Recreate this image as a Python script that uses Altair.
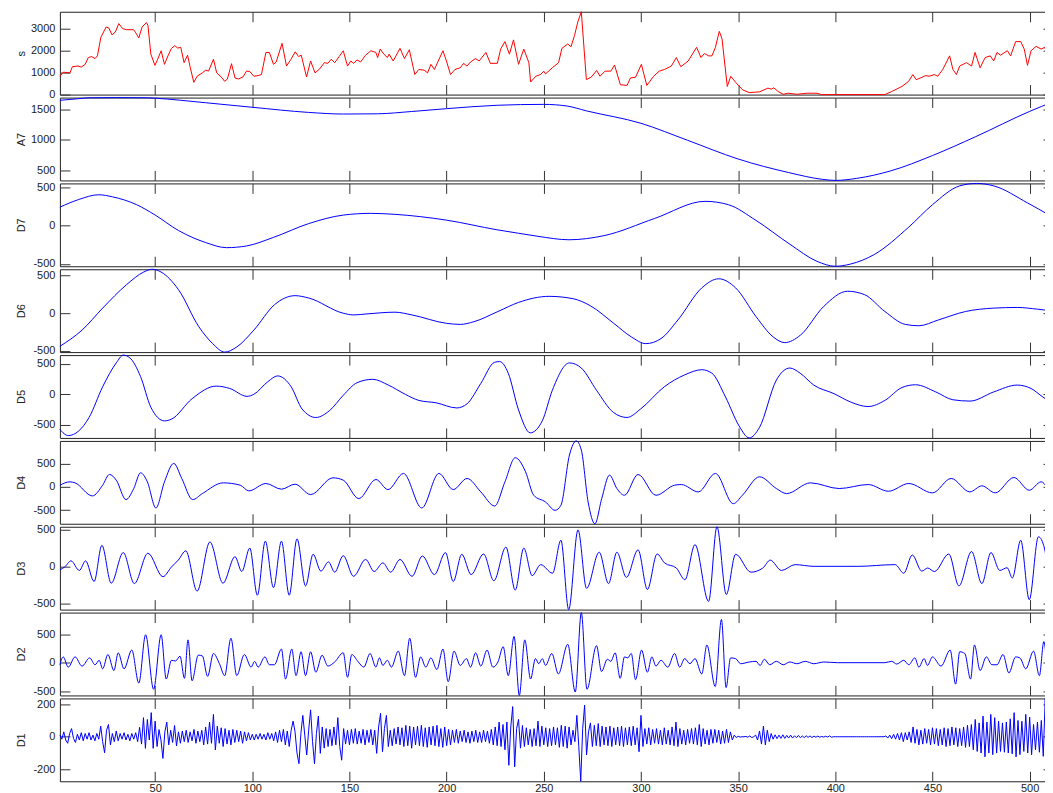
import altair as alt
import pandas as pd

# ---------------- data ----------------
X_TICKS = [50, 100, 150, 200, 250, 300, 350, 400, 450, 500]

s_x = [1, 2.7, 6.2, 7.4, 10.3, 12, 14, 15.6, 17.3, 19.1, 20.3, 22.1, 24.8, 26.2, 27.8, 29.5, 31.3, 33.3, 35.4, 38.9,
       39.8, 41.6, 43.3, 45.5, 46.3, 47.8, 49.9, 51.3, 53.1, 54.8, 56.6, 58.4, 60.1, 61.6, 63.2, 64.9, 66.7, 68.1, 69.9, 71.6,
       74.3, 76.1, 77.5, 80, 81.7, 84, 85.8, 87.2, 89.3, 91.1, 92.9, 95.2, 97, 98.7, 100.8, 103, 104.7, 107, 108.8, 110.9,
       112.3, 115.3, 117.6, 119.9, 122.1, 123.8, 125.2, 127.9, 130, 132.3, 134.4, 137.1, 138.9, 140.6, 142.4, 144.7, 146.8, 149, 150.7, 152.1,
       153.9, 155.7, 158.3, 161, 163.6, 164.5, 165.8, 167.7, 169.5, 170.4, 172.5, 176, 178.3, 180.8, 183.6, 185.7, 188.4, 190.2, 191.9, 193.7,
       198.1, 199.9, 202, 204.3, 207, 208.7, 210.5, 212.3, 214.9, 216.7, 220.2, 222.5, 226.1, 227.8, 230, 232.3, 234.4, 237, 239.7, 242.3,
       243.2, 245.9, 248.3, 250, 250.9, 254.4, 257.6, 259.3, 262.3, 264, 265.8, 267.5, 269.3, 271.9, 274.5, 277.2, 278.9, 281.5, 284.5, 286.4,
       289.4, 292.8, 294.6, 297.2, 300.2, 303, 306.5, 309.4, 312.1, 315.6, 318.2, 320.5, 324.3, 328.6, 330.9, 332.6, 334.8, 336.5, 338.3, 340.3,
       341.7, 344.4, 346.2, 348.7, 352.3, 355.7, 361, 365.3, 367.1, 368.3, 370.6, 373.2, 375.8, 380.2, 385.4, 390.6, 392.9, 425.5, 429, 434.3,
       437.7, 439.9, 441.6, 443.9, 446.5, 448.3, 450.9, 452.7, 455.3, 458.8, 460.5, 462.3, 464, 467.5, 470.1, 471.9, 474.5, 477.1, 479.7, 481.5,
       483.2, 485, 488.5, 490.2, 492.8, 495.4, 497.2, 498.9, 500.7, 503.3, 505.9, 507.7, 509.1, 510.3, 512]
s_y = [835, 1020, 990, 1268, 1300, 1252, 1376, 1685, 1731, 1638, 1762, 2612, 3076, 3030, 2720, 2845, 3231, 3000, 2953, 2953,
       2845, 2582, 3076, 3277, 3154, 1840, 1330, 1608, 1994, 1376, 1762, 2103, 2226, 2118, 2149, 1453, 1793, 1221, 557, 835,
       989, 1113, 1067, 1608, 989, 804, 603, 711, 1407, 758, 711, 804, 1067, 1051, 835, 866, 912, 1917, 1917, 1376,
       1484, 2334, 1299, 1608, 1948, 1731, 1793, 804, 1530, 989, 1144, 1453, 1422, 1608, 1453, 1731, 1994, 1299, 1530, 1422,
       1577, 1484, 1793, 1994, 1917, 1685, 2072, 1840, 1685, 1840, 1530, 2103, 1639, 2041, 912, 1144, 1113, 989, 1376, 1144,
       1994, 1530, 912, 1144, 1221, 1422, 1299, 1484, 1639, 1530, 1917, 1422, 1422, 2072, 2412, 1840, 2489, 1376, 2072, 1453,
       572, 835, 912, 1067, 943, 1221, 1453, 2103, 2303, 2180, 2690, 3308, 3770, 680, 804, 1098, 835, 1067, 1067, 1345,
       448, 417, 758, 789, 1376, 417, 835, 1067, 1144, 1299, 1685, 1268, 1530, 2149, 1685, 1871, 1762, 1762, 2149, 2876,
       2535, 371, 835, 557, 216, 93, 124, 294, 247, 309, 139, 15, 62, 15, 62, 62, 0, 0, 139, 371,
       603, 912, 680, 758, 866, 835, 912, 835, 1144, 1762, 1144, 912, 1299, 1453, 1299, 1917, 1221, 1685, 1762, 1530,
       1917, 1793, 1994, 1762, 2412, 2412, 2072, 1330, 1994, 2195, 2072, 2149, 1840, 835, 800]

a7_x = [1, 10, 16, 30, 46, 50, 76, 100, 129, 147, 164.5, 182, 200, 226, 250, 262, 272, 300, 324, 350,
        376, 393.5, 400, 411, 428.5, 450, 472, 500, 512]
a7_y = [1655, 1680, 1697, 1700, 1697, 1690, 1615, 1540, 1455, 1428, 1432, 1470, 1517, 1573, 1588, 1560, 1480, 1275, 994, 685,
        461, 348, 331, 365, 489, 742, 1051, 1472, 1630]

d7_x = [1, 10.6, 21, 28, 40.5, 50, 62, 76, 86.7, 97, 111, 129, 147, 161, 173.4, 200, 226, 237, 247, 263,
        281, 307, 333, 345, 359, 376.6, 390.6, 400, 407.7, 420, 437.8, 450, 464, 472.7, 481.5, 499, 510, 512]
d7_y = [242, 341, 404, 377, 274, 139, -63, -220, -287, -265, -152, 27, 139, 161, 148, 72, -54, -99, -139, -184,
        -130, 94, 318, 274, 72, -242, -466, -530, -502, -377, -18, 274, 520, 552, 520, 296, 139, 110]

d6_x = [1, 12.4, 23, 35.4, 44.2, 48.6, 53, 62, 72.5, 79.6, 85.8, 92, 100.8, 111.4, 122, 129, 146.8, 152, 159, 173.4,
        182.2, 200, 207, 214, 226.4, 237, 252.7, 265, 274, 286, 295, 302.5, 310.3, 319, 331.3, 340, 348.7, 359.2, 368, 374,
        382, 394, 406.3, 415, 425.5, 436, 443, 453, 467, 481.5, 493.6, 504, 512]
d6_y = [-441, -225, 68, 383, 550, 586, 550, 315, -180, -405, -518, -450, -225, 113, 234, 203, 0, -23, -9, 14,
        -23, -135, -149, -113, 23, 144, 225, 194, 99, -135, -315, -405, -338, -90, 338, 459, 338, -45, -315, -392,
        -293, 90, 293, 248, 23, -149, -167, -90, 23, 68, 77, 54, 30]

d5_x = [1, 5.3, 10.6, 16, 23, 30, 33.6, 37, 42.5, 47.8, 54.8, 58.4, 69, 81.4, 88.4, 97.3, 100.8, 108, 113, 120,
        125.6, 132.7, 139.7, 146.8, 153.9, 162, 170, 178.7, 185.7, 194.6, 205.2, 210.5, 217.6, 224.7, 227.3, 231.7, 237, 243, 249.2, 254.4,
        263.2, 269.3, 277.1, 285.8, 292.8, 299.8, 312, 322.5, 331.3, 336.5, 343.5, 350.5, 355.7, 360.9, 369.7, 376.6, 381.9, 388.9, 399.3, 408,
        416.8, 425.5, 434.3, 441.3, 451.7, 460.5, 469.3, 481.5, 493.6, 500.7, 506.8, 512]
d5_y = [-579, -680, -607, -382, 124, 517, 646, 601, 292, -213, -438, -410, -73, 135, 96, -34, 0, 208, 303, 124,
        -242, -382, -270, -17, 191, 247, 152, 0, -101, -140, -225, -157, 180, 528, 539, 348, -258, -635, -438, 67,
        517, 433, 67, -298, -382, -242, 124, 320, 405, 348, -45, -522, -719, -551, 236, 433, 348, 152, 11, -129,
        -202, -101, 112, 157, 39, -90, -112, 39, 152, 96, -45, -150]

d4_x = [1, 6.2, 8.8, 17.7, 23, 26.5, 30, 35, 39, 42.5, 46, 50.4, 54.8, 59.6, 63.7, 69.3, 74.3, 85, 93.8, 98.2,
        107, 115, 122, 130, 141.5, 146.8, 154.8, 163.6, 169.8, 177.8, 187.2, 196, 203.4, 210.5, 217.6, 224.7, 230, 235.3, 240.6, 244.8,
        250.9, 255.8, 258.8, 263.2, 266.7, 269.3, 272.8, 276.3, 279.8, 283.8, 287.6, 291.5, 298.5, 307.7, 317.3, 320.8, 329.5, 338.3, 347.5, 352.2,
        361, 369.7, 374.9, 387.2, 402, 416.9, 427.3, 437.8, 450, 459.6, 469.2, 475.4, 482.3, 491.9, 499.8, 505.9, 512]
d4_y = [36, 108, 86, -194, 36, 266, 144, -273, -36, 302, 108, -453, 108, 503, 180, -273, -144, 86, 36, -86,
        72, -50, 58, -165, 194, 144, -252, 158, -58, 288, -453, 288, -58, 180, -108, -410, 108, 625, 324, -180,
        -324, -503, -395, 683, 985, 791, -324, -791, -252, 252, -36, -180, 266, -180, 36, 50, -108, 288, -360, -180,
        216, -36, -144, 86, -36, 50, -94, 72, -129, 180, -108, 22, -129, 201, -72, 108, -300]

d3_x = [1, 3.5, 6.7, 11, 14.2, 18.6, 22.6, 27.4, 33.6, 39.3, 46.3, 54, 58.4, 61.9, 65.8, 71.6, 78.2, 84.9, 91.1, 94.6,
        98.7, 102.6, 106.7, 110.9, 115, 119, 123, 127.4, 131.3, 135.3, 139.2, 142.4, 146.8, 152.1, 158.3, 162.7, 167.2, 171.2, 176, 182.2,
        187.5, 193.7, 199.4, 203.4, 207.8, 212.6, 219, 224.3, 230.5, 235.3, 239.7, 244, 248.4, 254.5, 258.8, 262.8, 267.6, 272, 278.5, 283.3,
        287.6, 292.5, 298.5, 303.3, 308.3, 312.1, 318.2, 322.6, 327.8, 334.8, 339.1, 343.9, 348.7, 356.6, 362.7, 366.5, 372.3, 379.3, 389, 411.6,
        430.8, 435.2, 439.6, 444.5, 447.5, 451, 458.4, 463.6, 470.1, 475.4, 480.1, 484.6, 488.4, 491.1, 495.4, 499.8, 504.5, 507.6, 510.8, 512]
d3_y = [-47, -9, 74, -56, 74, -205, 284, -228, 186, -233, 177, -140, -9, 84, 209, -335, 330, -228, 130, -70,
        247, -391, 340, -288, 340, -391, 372, -265, 163, -65, 60, -79, 144, -135, 93, -70, 47, -79, 93, -135,
        140, -112, 186, -205, 163, -112, 167, -195, 260, -321, 247, -126, 23, -93, 353, -585, 493, -298, 191, -233,
        191, -149, 223, -312, 167, 47, -23, -181, 293, -474, 535, -381, 163, -79, -23, 84, -56, 23, 0, 0,
        23, -93, 153, -65, -23, -70, 167, -265, 200, -233, 186, -56, -19, -158, 353, -451, 400, 247, -335, -400]

d2_x = [1, 2.7, 5.3, 8.8, 12.4, 16.3, 19.1, 21.2, 23, 25.7, 28.8, 31, 34, 38, 41.6, 45.1, 49.2, 53.1, 55.7, 58.4,
        60.5, 62.8, 65.1, 66.9, 69, 72.2, 74.3, 77, 80, 83.1, 85.8, 89, 92, 95.9, 99.4, 101.2, 103, 106.5, 108.8, 111.4,
        115, 117.1, 120.3, 122.5, 125.1, 127.4, 130, 132.7, 135.9, 138.9, 142.4, 146.8, 149, 151.2, 154.3, 157.4, 160.6, 163.6, 165.4, 167.2,
        169.5, 171.6, 175.1, 178.3, 181, 184, 186.6, 189.3, 191.9, 195, 198.1, 200.8, 203.8, 207, 210.2, 212.3, 214.9, 217.6, 220.8, 223.8,
        226.4, 229.1, 231.7, 234.7, 237.4, 240.2, 243.2, 245.7, 247.4, 249.2, 250.9, 254.1, 257.5, 262.3, 266.2, 269.3, 272.2, 277.1, 279.7, 282.7,
        284.5, 286.7, 289.3, 291.5, 293.2, 295, 297.2, 300.3, 303.3, 305.6, 307.7, 310.3, 313.8, 317.3, 319.9, 322.5, 325.2, 327.8, 331.3, 333.9,
        338.2, 341.4, 343.8, 346.1, 348.7, 351.3, 355.7, 359.2, 361.3, 363.5, 366.2, 369.7, 373.2, 376.6, 380.2, 384.5, 388.9, 394.1, 401.1, 425.5,
        429, 431.6, 435.2, 437.8, 440.9, 443, 445.7, 447.4, 450, 454.4, 459.1, 461.9, 464, 466.6, 469.6, 471.6, 474.5, 477.7, 480.6, 483.2,
        486.3, 489.3, 492.8, 495, 498, 502, 505, 507.3, 509, 510.3, 512]
d2_y = [-36, 102, -78, 102, -60, 84, -36, 42, -108, 144, -138, 174, -108, 222, -359, 491, -467, 491, -287, 42,
        30, 114, -275, 401, -317, 132, 120, -240, 162, -18, -228, 431, -228, 144, -78, 24, -78, 102, -36, -36,
        240, -287, 240, -228, 192, -228, 192, -168, 132, -60, 12, 174, -257, 144, 24, -78, 162, -78, 84, -48,
        42, -78, 204, -228, 431, -257, 102, -78, 84, -120, 240, -335, 204, -48, 72, -78, 174, -60, 222, -78,
        12, 281, -228, 461, -575, 401, -287, 72, -18, 72, -48, 162, -198, 323, -515, 880, -467, 299, -156, 60,
        24, 174, -275, 102, 84, 162, -299, 222, -168, 102, -60, 42, -78, 162, -78, 72, -18, 72, -198, 311,
        -419, 760, -437, 84, 72, -18, 12, 24, -48, 60, -36, 24, -36, 12, -18, 24, -18, 12, 0, 0,
        24, -24, 42, -36, 84, -78, 72, -48, 102, -60, 222, -377, 192, 162, -287, 311, -138, 102, -36, -36,
        144, -180, 102, 84, -108, 204, -228, 371, -18, -228, -150]

# D1: one value per sample, samples 1..512
d1_y = [
    10, -15, 30, -20, -40, 20, 50, -10, -35, 15, -20, 25, -25, 20, -15, 25,
    -20, 10, -25, 20, -15, 65, -30, -98, 40, 75, -50, 20, -30, 35, -25, 20,
    -15, 25, -20, 15, -25, 20, -15, 25, -30, 58, -45, 117, -71, 106, -20, 148,
    -71, 96, -60, 44, -20, -133, 30, 90, -50, 40, -35, 69, -56, 30, -40, 35,
    -30, 40, -35, 30, -25, 45, -40, 35, -30, 40, -50, 60, -45, 90, -40, 137,
    -81, 65, -40, 55, -60, 50, -45, 40, -50, 45, -35, 40, -30, 35, -40, 30,
    -25, 25, -20, 15, -20, 15, -15, 20, -15, 15, -20, 25, -15, 20, -25, 30,
    -35, 40, -30, 45, -50, 35, -60, 40, 96, 30, -100, -165, 20, 131, 10, -112,
    40, 165, -30, -165, 20, 127, -102, 60, -70, 50, -60, 45, -55, 60, -50, 117,
    -60, -144, 50, -45, 40, -50, 45, -40, 50, -45, 35, -40, 45, -50, 40, -35,
    45, -50, 40, -102, 60, 144, -92, 50, 131, -60, 40, -55, 50, -45, 60, -50,
    55, -60, 70, -55, 65, -70, 60, -50, 65, -55, 70, -60, 55, -65, 60, -50,
    65, -55, 70, -60, 50, -65, 60, -55, 45, -50, 40, -35, 45, -40, 35, -30,
    40, -35, 30, -40, 35, -30, 40, -35, 30, -35, 40, -30, 35, -40, 45, -50,
    60, -55, 90, -60, 75, -80, 90, -175, 60, 185, -185, 50, 106, -70, 69, -60,
    55, -50, 45, -60, 50, -55, 96, -60, 65, -50, 55, -60, 50, -55, 60, -50,
    55, -65, 70, -60, 65, -70, 60, -50, 40, -30, 131, -60, -273, 50, 194, -112,
    30, 85, -60, 70, -55, 81, -60, 65, -50, 60, -55, 65, -60, 55, -50, 60,
    -55, 65, -60, 55, -50, 60, -55, 65, -50, 55, -92, 131, -60, 50, -45, 55,
    -50, 45, -40, 50, -45, 40, -50, 55, -45, 40, -50, 60, -55, 90, -60, 50,
    -45, 40, -50, 45, -40, 50, -45, 55, -50, 75, -60, 50, -45, 40, -50, 45,
    -40, 45, -35, 40, -45, 35, -40, 45, -35, 30, -20, 10, -5, 3, -2, 0,
    0, 2, -3, 5, -5, 0, 10, -20, 35, -45, 65, -50, 40, -30, 20, -15,
    12, -12, 10, -10, 12, -10, 8, -8, 10, -8, 6, -6, 8, -6, 5, -5,
    6, -4, 5, -5, 4, -3, 4, -3, 2, -2, 3, -2, 5, -3, 0, 0,
    0, 0, 0, 0, 0, 0, 0, 0, 0, 0, 0, 0, 0, 0, 0, 0,
    0, 0, 0, 0, 0, 0, 0, 0, 0, 5, -8, 10, -12, 15, -15, 20,
    -20, 25, -30, 25, -20, 30, -35, 60, -40, 45, -50, 40, -45, 50, -40, 45,
    -50, 55, -45, 50, -55, 45, -50, 55, -60, 50, -55, 60, -50, 55, -60, 50,
    -55, 60, -65, 70, -60, 75, -80, 106, -90, 85, -100, 127, -123, 90, -100, 137,
    -110, 117, -100, 95, -90, 85, -95, 90, -100, 110, -105, 148, -123, 100, -110, 95,
    -90, 137, -100, 120, -110, 75, -80, 90, -95, 100, -120, 235, -165, 120, -150, 90,
]
d1_x = list(range(1, len(d1_y) + 1))

# ---------------- chart ----------------
W = 995
H = 83
GAP = 3
FONT = "Liberation Sans"
INK = "#222222"
LABEL_EXPR = "toString(datum.value)"


def panel(title, xs, ys, color, interp, yticks, bottom_labels=False):
    df = pd.DataFrame({"x": xs, "y": ys})
    xscale = alt.Scale(domain=[1, 512], nice=False, zero=False)
    yscale = alt.Scale(zero=False, nice=False)
    common = dict(domain=False, grid=False, tickSize=10, tickColor="#333333", tickWidth=1,
                  labelFont=FONT, labelFontSize=11, labelColor=INK, labelFlush=False,
                  labelOverlap=False, labelBound=False, offset=-10, minExtent=0,
                  labelExpr=LABEL_EXPR)
    line = alt.Chart(df).mark_line(color=color, strokeWidth=1, interpolate=interp).encode(
        x=alt.X("x:Q", scale=xscale,
                axis=alt.Axis(orient="bottom", values=X_TICKS, labels=bottom_labels,
                              labelPadding=1, title=None, **common)),
        y=alt.Y("y:Q", scale=yscale,
                axis=alt.Axis(orient="left", values=yticks, labelPadding=5, title=title,
                              titleX=-48.8, titleY=H / 2, titleAngle=270, titleAlign="center",
                              titleBaseline="middle", titleFont=FONT, titleFontSize=11,
                              titleFontWeight="normal", titleColor=INK, **common)),
    )
    ghost = alt.Chart(df).mark_line(strokeOpacity=0).encode(
        x=alt.X("x:Q", scale=xscale,
                axis=alt.Axis(orient="top", values=X_TICKS, labels=False, title=None, **common)),
        y=alt.Y("y:Q", scale=yscale,
                axis=alt.Axis(orient="right", values=yticks, labels=False, title=None, **common)),
    )
    return alt.layer(line, ghost).resolve_axis(x="independent", y="independent").properties(
        width=W, height=H)


RED = "#ff0000"
BLUE = "#0000ff"
T3 = [-500, 0, 500]

panels = [
    panel("s", s_x, s_y, RED, "linear", [0, 1000, 2000, 3000]),
    panel("A7", a7_x, a7_y, BLUE, "monotone", [500, 1000, 1500]),
    panel("D7", d7_x, d7_y, BLUE, "monotone", T3),
    panel("D6", d6_x, d6_y, BLUE, "monotone", T3),
    panel("D5", d5_x, d5_y, BLUE, "monotone", T3),
    panel("D4", d4_x, d4_y, BLUE, "monotone", T3),
    panel("D3", d3_x, d3_y, BLUE, "monotone", T3),
    panel("D2", d2_x, d2_y, BLUE, "monotone", T3),
    panel("D1", d1_x, d1_y, BLUE, "linear", [-200, 0, 200], bottom_labels=True),
]

chart = alt.vconcat(*panels, spacing=GAP, bounds="flush").properties(
    padding={"left": 6, "top": 0, "right": -11, "bottom": 0},
    background="white",
).configure_view(stroke="#222222", strokeWidth=1)

chart.save("out.html", embed_options={"renderer": "svg", "actions": False})
